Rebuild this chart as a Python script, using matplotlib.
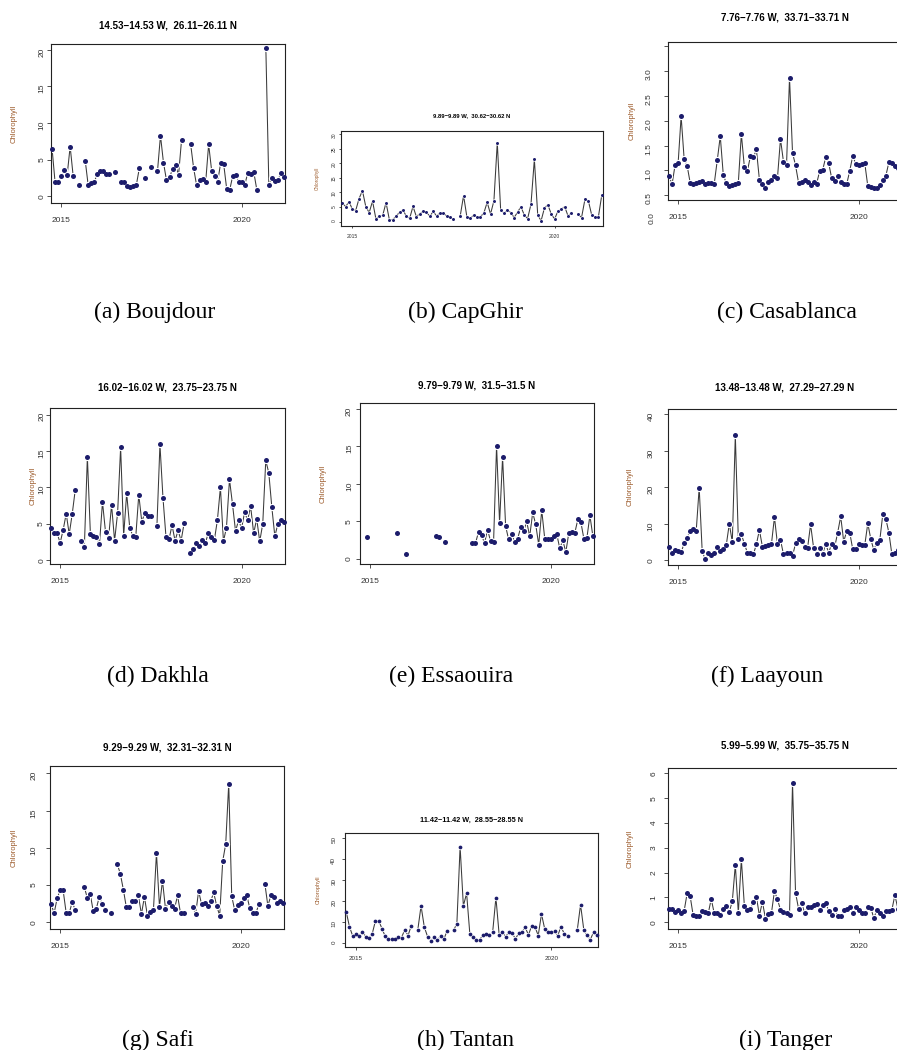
import numpy as np
import matplotlib.pyplot as plt

plt.rcParams['font.family'] = 'Liberation Sans'

W, H = 897, 1050
nan = np.nan

# monthly series, Oct 2014 .. Mar 2021
months = 2014.75 + np.arange(78) / 12.0

boujdour = [6.5, 1.9, 1.9, 2.8, 3.6, 2.9, 6.8, 2.8, nan, 1.5, nan, 4.9,
            1.5, 1.8, 2.0, 3.0, 3.4, 3.4, 3.1, 3.1, nan, 3.3, nan, 1.9,
            2.0, 1.4, 1.3, 1.4, 1.6, 3.9, nan, 2.5, nan, 4.0, nan, 3.4,
            8.3, 4.6, 2.2, 2.6, 3.7, 4.3, 2.9, 7.7, nan, nan, 7.2, 3.9,
            1.5, 2.2, 2.4, 1.9, 7.1, 3.5, 2.8, 2.0, 4.6, 4.4, 1.0, 0.9,
            2.8, 2.9, 2.0, 1.9, 1.6, 3.2, 3.1, 3.3, 0.9, nan, nan, 20.2,
            1.5, 2.5, 2.1, 2.2, 3.2, 2.7]
capghir = [6.5, 5.1, 6.8, 4.3, 3.8, 7.9, 10.6, 5.1, 3.1, 7.0, 0.9, 1.9,
           2.1, 6.5, 0.6, 0.7, 1.9, 3.2, 4.0, 1.9, 1.1, 5.2, 1.7, 2.7,
           3.6, 3.2, 1.8, 3.5, 1.9, 3.1, 3.1, 1.8, 1.5, 0.8, nan, 1.9,
           8.9, 1.5, 1.1, 2.3, 1.7, 1.7, 2.9, 6.6, 2.6, 7.1, 27.0, 4.0,
           2.9, 4.0, 3.1, 1.4, 3.2, 5.1, 2.3, 1.0, 6.0, 21.3, 2.2, 0.3,
           4.7, 5.8, 2.6, 0.9, 3.6, 4.3, 5.1, 1.9, 3.1, nan, 2.5, 1.4,
           7.6, 7.2, 2.3, 1.7, 1.7, 9.1]
casablanca = [0.88, 0.72, 1.11, 1.14, 2.09, 1.23, 1.09, 0.75, 0.72, 0.75, 0.76, 0.78,
              0.72, 0.74, 0.75, 0.73, 1.20, 1.69, 0.91, 0.74, 0.69, 0.70, 0.72, 0.75,
              1.73, 1.07, 0.98, 1.28, 1.26, 1.42, 0.81, 0.73, 0.65, 0.76, 0.80, 0.88,
              0.85, 1.63, 1.17, 1.10, 2.87, 1.35, 1.10, 0.75, 0.77, 0.80, 0.76, 0.71,
              0.76, 0.73, 0.98, 1.00, 1.26, 1.15, 0.84, 0.78, 0.89, 0.76, 0.72, 0.72,
              0.99, 1.29, 1.13, 1.10, 1.12, 1.14, 0.68, 0.67, 0.64, 0.65, 0.70, 0.80,
              0.89, 1.16, 1.14, 1.08, 1.05, 1.00]
dakhla = [4.4, 3.7, 3.7, 2.4, 4.2, 6.4, 3.6, 6.4, 9.7, nan, 2.6, 1.8,
          14.2, 3.6, 3.4, 3.2, 2.2, 8.0, 3.9, 3.0, 7.6, 2.7, 6.5, 15.5,
          3.4, 9.2, 4.5, 3.4, 3.2, 9.0, 5.3, 6.5, 6.1, 6.1, nan, 4.7,
          15.9, 8.6, 3.2, 2.9, 4.8, 2.7, 4.1, 2.7, 5.1, nan, 1.0, 1.6,
          2.4, 2.0, 2.8, 2.4, 3.7, 3.2, 2.8, 5.5, 10.0, 2.6, 4.5, 11.1,
          7.7, 4.0, 5.5, 4.4, 6.6, 5.5, 7.4, 3.7, 5.7, 2.6, 5.0, 13.7,
          12.0, 7.3, 3.3, 5.0, 5.6, 5.2]
essaouira = [nan, nan, 2.9, nan, nan, nan, nan, nan, nan, nan, nan, nan,
             3.5, nan, nan, 0.7, nan, nan, nan, nan, nan, nan, nan, nan,
             nan, 3.0, 2.9, nan, 2.2, nan, nan, nan, nan, nan, nan, nan,
             nan, 2.1, 2.1, 3.6, 3.2, 2.1, 3.9, 2.4, 2.2, 15.1, 4.8, 13.6,
             4.4, 2.6, 3.3, 2.3, 2.7, 4.2, 3.7, 5.0, 3.0, 6.2, 4.6, 1.9,
             6.5, 2.7, 2.7, 2.6, 3.0, 3.3, 1.4, 2.5, 0.9, 3.5, 3.6, 3.5,
             5.3, 4.9, 2.7, 2.8, 5.8, 3.0]
laayoun = [3.7, 1.9, 2.7, 2.6, 2.2, 4.6, 6.2, 8.1, 8.7, 7.9, 19.9, 2.4,
           0.3, 2.1, 1.5, 2.1, 3.6, 2.5, 3.0, 4.2, 10.0, 5.0, 34.3, 5.8,
           7.2, 4.5, 2.1, 1.9, 1.6, 4.4, 8.3, 3.7, 3.9, 4.1, 4.5, 11.8,
           4.4, 5.6, 1.6, 2.0, 2.1, 1.2, 4.6, 5.9, 5.4, 3.5, 3.4, 9.8,
           3.4, 1.6, 3.3, 1.6, 4.5, 2.1, 4.5, 3.6, 7.6, 12.0, 5.1, 8.0,
           7.6, 3.0, 3.0, 4.4, 4.2, 4.2, 10.1, 5.8, 2.8, 4.8, 5.6, 12.7,
           11.3, 7.6, 1.6, 1.9, 2.8, 2.5]
safi = [2.5, 1.2, 3.2, 4.3, 4.3, 1.3, 1.2, 2.7, 1.7, nan, nan, 4.8,
        3.3, 3.8, 1.5, 1.8, 3.4, 2.5, 1.7, nan, 1.3, nan, 7.8, 6.5,
        4.4, 2.0, 2.1, 2.9, 2.9, 3.6, 1.1, 3.4, 0.9, 1.4, 1.7, 9.3,
        2.1, 5.6, 1.8, 2.7, 2.2, 1.8, 3.6, 1.2, 1.2, nan, nan, 2.1,
        1.1, 4.2, 2.4, 2.6, 2.2, 2.8, 4.0, 2.2, 0.9, 8.2, 10.5, 18.6,
        3.5, 1.6, 2.3, 2.6, 3.2, 3.6, 1.9, 1.3, 1.2, 2.4, nan, 5.2,
        2.2, 3.6, 3.4, 2.6, 2.8, 2.6]
tantan = [14.9, 7.7, 3.2, 4.0, 3.4, 5.3, 2.9, 2.4, 4.2, 10.5, 10.5, 6.7,
          3.0, 1.8, 1.8, 1.6, 2.9, 2.4, 6.2, 3.4, 8.1, nan, 6.1, 17.6,
          7.5, 2.9, 1.0, 2.6, 1.3, 3.0, 1.6, 5.6, nan, 6.1, 8.9, 46.0,
          17.6, 23.6, 4.0, 2.9, 1.4, 1.4, 3.7, 4.2, 3.5, 5.0, 21.6, 3.7,
          5.0, 2.9, 5.1, 4.5, 1.8, 4.5, 5.0, 7.3, 3.7, 8.1, 7.5, 3.4,
          13.7, 6.5, 5.3, 5.3, 5.4, 3.4, 7.7, 4.2, 3.4, nan, nan, 6.1,
          18.2, 6.1, 3.5, 1.4, 5.1, 3.7]
tanger = [0.52, 0.52, 0.43, 0.50, 0.36, 0.46, 1.17, 1.05, 0.28, 0.27, 0.27, 0.47,
          0.43, 0.36, 0.94, 0.36, 0.36, 0.30, 0.54, 0.66, 0.42, 0.85, 2.31, 0.38,
          2.54, 0.67, 0.50, 0.54, 0.81, 1.03, 0.27, 0.83, 0.15, 0.32, 0.38, 1.25,
          0.93, 0.50, 0.43, 0.36, 0.31, 5.62, 1.19, 0.55, 0.79, 0.38, 0.63, 0.63,
          0.70, 0.75, 0.51, 0.70, 0.77, 0.47, 0.28, 0.52, 0.27, 0.27, 0.48, 0.54,
          0.63, 0.36, 0.62, 0.50, 0.38, 0.36, 0.63, 0.59, 0.16, 0.50, 0.36, 0.27,
          0.47, 0.47, 0.50, 1.10, 0.54, 0.60]

titles = ['14.53\u221214.53 W,  26.11\u221226.11 N', '9.89\u22129.89 W,  30.62\u221230.62 N',
          '7.76\u22127.76 W,  33.71\u221233.71 N', '16.02\u221216.02 W,  23.75\u221223.75 N',
          '9.79\u22129.79 W,  31.5\u221231.5 N', '13.48\u221213.48 W,  27.29\u221227.29 N',
          '9.29\u22129.29 W,  32.31\u221232.31 N', '11.42\u221211.42 W,  28.55\u221228.55 N',
          '5.99\u22125.99 W,  35.75\u221235.75 N']
captions = ['(a) Boujdour', '(b) CapGhir', '(c) Casablanca', '(d) Dakhla', '(e) Essaouira',
            '(f) Laayoun', '(g) Safi', '(h) Tantan', '(i) Tanger']
series = [boujdour, capghir, casablanca, dakhla, essaouira, laayoun, safi, tantan, tanger]
yticks = [[0, 5, 10, 15, 20], [0, 5, 10, 15, 20, 25, 30], [0.5, 1.0, 1.5, 2.0, 2.5, 3.0, 3.5],
          [0, 5, 10, 15, 20], [0, 5, 10, 15, 20], [0, 10, 20, 30, 40],
          [0, 5, 10, 15, 20], [0, 10, 20, 30, 40, 50], [0, 1, 2, 3, 4, 5, 6]]

# layout in pixels: box (l, t, r, b), title y, ylabel x, caption (x, y)
boxes = [(51, 44, 285, 203), (341, 131, 603, 226), (668, 42, 902, 200),
         (50, 408, 285, 564), (360, 403, 594, 564), (668, 409, 902, 565),
         (50, 766, 284, 929), (345, 833, 598, 947), (668, 768, 902, 929)]
ylims = [(-0.9, 20.8), (-1.5, 31), (0.40, 3.59), (-0.5, 20.9), (-0.67, 20.8),
         (-1.3, 41.45), (-0.9, 20.98), (-2.1, 52.5), (-0.27, 6.22)]
title_y = [25, 116, 17, 387, 385, 387, 747, 820, 746]
ylab_x = [14, 317, 632, 33, 323, 630, 14, 318, 630]
ypads = [0.8, 1.5, 8, 0.5, 2, 6.5, 6, 4, 4.5]
xpads = [7, 4, 7, 7, 7, 7, 7, 4.5, 7]
scale = [1, 0.6, 1, 1, 1, 1, 1, 0.75, 1]
cap_xy = [(155, 312), (465, 312), (787, 312), (158, 676), (451, 676), (767, 676),
          (158, 1040), (465, 1040), (786, 1040)]

fig = plt.figure(figsize=(W / 100, H / 100), dpi=100)

for i in range(9):
    l, t, r, b = boxes[i]
    s = scale[i]
    ax = fig.add_axes([l / W, 1 - b / H, (r - l) / W, (b - t) / H])
    y = np.array(series[i], dtype=float)
    ax.plot(months, y, '-', color='#3a3a3a', lw=0.75, zorder=1.5)
    ax.plot(months, y, 'o', ms=5.2 * s, color='white', mew=0, zorder=1.9)
    ax.plot(months, y, 'o', ms=3.6 * s, color='#1c1c6b', mew=0, zorder=3, clip_on=False)
    ax.set_xlim(months[0] - 0.03, months[-1] + 0.03)
    ax.set_ylim(*ylims[i])
    ax.set_xticks([2015, 2020])
    ax.set_xticklabels(['2015', '2020'])
    ax.set_yticks(yticks[i])
    ax.set_yticklabels([f'{v:g}' if i != 2 else f'{v:.1f}' for v in yticks[i]])
    if i == 2:
        ax.get_yticklabels()[-1].set_visible(False)
    ax.tick_params(axis='both', direction='out', length=3 * s, width=0.6,
                   labelsize=6 * s, colors='#333333')
    ax.tick_params(axis='y', labelrotation=90, pad=ypads[i])
    ax.tick_params(axis='x', pad=xpads[i])
    for sp in ax.spines.values():
        sp.set_linewidth(0.8)
        sp.set_color('#222222')
    fig.text((l + r) / 2 / W, 1 - title_y[i] / H, titles[i], ha='center', va='center',
             fontsize=7 * s, fontweight='bold')
    fig.text(ylab_x[i] / W, 1 - (t + b) / 2 / H, 'Chlorophyll', rotation=90,
             ha='center', va='center', fontsize=5.5 * s, color='#9c5a2a')
    cx, cy = cap_xy[i]
    fig.text(cx / W, 1 - cy / H, captions[i], ha='center', va='center',
             fontsize=17, family='Liberation Serif')

# stray axis label under the Casablanca panel
fig.text(652 / W, 1 - 218 / H, '0.0', rotation=90, ha='center', va='center',
         fontsize=6, color='#333333')

fig.savefig('out.png', dpi=100)
